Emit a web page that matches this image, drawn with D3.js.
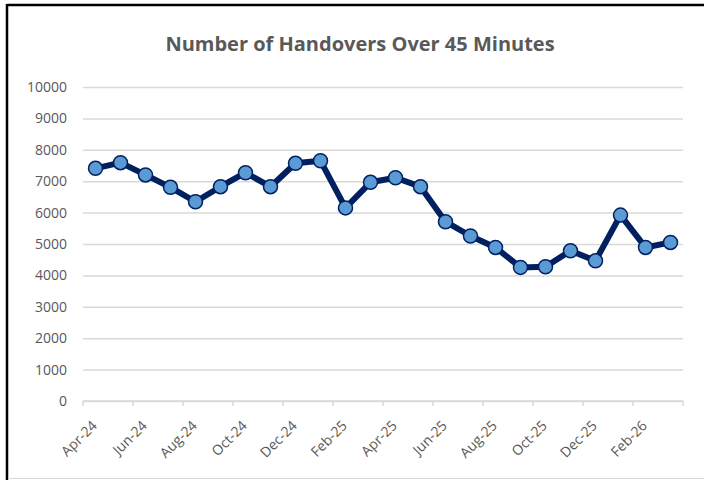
<!DOCTYPE html>
<html>
<head>
<meta charset="utf-8">
<script src="https://cdn.jsdelivr.net/npm/d3@7"></script>
<style>
  html, body { margin: 0; padding: 0; background: #fff; }
  svg { display: block; }
  text { font-family: "Open Sans", "Noto Sans", sans-serif; }
</style>
</head>
<body>
<svg id="chart" width="704" height="480"></svg>
<script>
// Monthly counts, April 2024 to March 2026
const months = [
  "Apr-24","May-24","Jun-24","Jul-24","Aug-24","Sep-24","Oct-24","Nov-24",
  "Dec-24","Jan-25","Feb-25","Mar-25","Apr-25","May-25","Jun-25","Jul-25",
  "Aug-25","Sep-25","Oct-25","Nov-25","Dec-25","Jan-26","Feb-26","Mar-26"
];
const handovers = [
  7410, 7590, 7200, 6805, 6345, 6825, 7270, 6825,
  7570, 7650, 6150, 6965, 7110, 6825, 5710, 5255,
  4890, 4255, 4275, 4785, 4465, 5920, 4890, 5050
];
const yTicks = [0, 1000, 2000, 3000, 4000, 5000, 6000, 7000, 8000, 9000, 10000];
const chartTitle = "Number of Handovers Over 45 Minutes";

const svg = d3.select("#chart");
const W = 704, H = 480;
const plot = { left: 83, right: 683, top: 87, bottom: 401 };

// Outer frame
svg.append("rect").attr("x", 0).attr("y", 0).attr("width", W).attr("height", H).attr("fill", "#fff");
svg.append("line").attr("x1", 7).attr("x2", W).attr("y1", 5).attr("y2", 5)
  .attr("stroke", "#000").attr("stroke-width", 2.5);
svg.append("line").attr("x1", 7).attr("x2", 7).attr("y1", 4).attr("y2", H)
  .attr("stroke", "#000").attr("stroke-width", 2.5);
svg.append("line").attr("x1", 8).attr("x2", W).attr("y1", 478.5).attr("y2", 478.5)
  .attr("stroke", "#d9d9d9").attr("stroke-width", 1);

// Title
svg.append("text")
  .attr("x", 360).attr("y", 51)
  .attr("text-anchor", "middle")
  .attr("font-size", 20).attr("font-weight", 700)
  .attr("fill", "#595959")
  .text(chartTitle);

const x = d3.scaleBand().domain(months).range([plot.left, plot.right]).padding(0);
const y = d3.scaleLinear().domain([0, 10000]).range([plot.bottom, plot.top]);

// Horizontal gridlines + y labels
const yAxis = d3.axisLeft(y).tickValues(yTicks).tickFormat(d3.format("d"))
  .tickSize(-(plot.right - plot.left)).tickPadding(16);
const gy = svg.append("g").attr("transform", `translate(${plot.left},0)`).call(yAxis);
gy.select(".domain").remove();
gy.selectAll(".tick line").attr("stroke", "#d9d9d9").attr("stroke-width", 1.5);
gy.selectAll(".tick text").attr("fill", "#595959").attr("font-size", 14)
  .attr("font-family", "'Open Sans', sans-serif");

// X axis: baseline, tick marks every second month, rotated labels
const tickIdx = d3.range(0, months.length + 1, 2);
const edge = i => plot.left + i * x.bandwidth();
svg.append("line").attr("x1", plot.left).attr("x2", plot.right)
  .attr("y1", plot.bottom).attr("y2", plot.bottom)
  .attr("stroke", "#d9d9d9").attr("stroke-width", 1.5);
svg.append("g").selectAll("line").data(tickIdx).join("line")
  .attr("x1", edge).attr("x2", edge)
  .attr("y1", plot.bottom).attr("y2", plot.bottom + 5)
  .attr("stroke", "#d9d9d9").attr("stroke-width", 1.5);
svg.append("g").selectAll("text").data(months.filter((m, i) => i % 2 === 0)).join("text")
  .attr("transform", d => `translate(${x(d) + x.bandwidth() / 2 - 1},${plot.bottom + 22}) rotate(-45)`)
  .attr("text-anchor", "end")
  .attr("dy", "0.35em")
  .attr("font-size", 14)
  .attr("fill", "#595959")
  .text(d => d);

// Series line and markers
const cx = d => x(d) + x.bandwidth() / 2;
const line = d3.line().x((d, i) => cx(months[i])).y(d => y(d));
svg.append("path").datum(handovers)
  .attr("d", line)
  .attr("fill", "none")
  .attr("stroke", "#002060")
  .attr("stroke-width", 6)
  .attr("stroke-linejoin", "round");
svg.append("g").selectAll("circle").data(handovers).join("circle")
  .attr("cx", (d, i) => cx(months[i]))
  .attr("cy", d => y(d))
  .attr("r", 7)
  .attr("fill", "#5b9bd5")
  .attr("stroke", "#002060")
  .attr("stroke-width", 1.5);
</script>
</body>
</html>
